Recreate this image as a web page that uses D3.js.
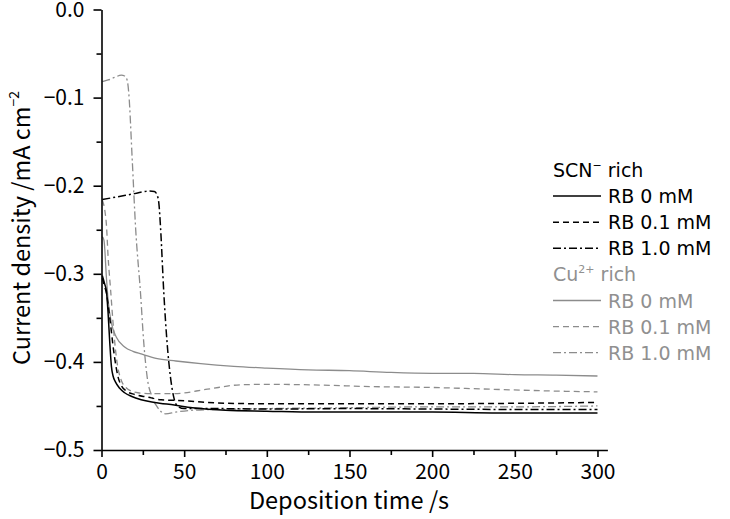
<!DOCTYPE html>
<html><head><meta charset="utf-8">
<script src="https://cdn.jsdelivr.net/npm/d3@7"></script>
<style>body{margin:0;background:#fff}</style>
</head><body>
<svg id="c" width="730" height="519"></svg>
<script>
// ---- data ----
const xTicks = [0, 50, 100, 150, 200, 250, 300];
const xMinorTicks = [25, 75, 125, 175, 225, 275];
const yTicks = [0, -0.1, -0.2, -0.3, -0.4, -0.5];
const yMinorTicks = [-0.05, -0.15, -0.25, -0.35, -0.45];
const yTickLabels = ["0.0", "−0.1", "−0.2", "−0.3", "−0.4", "−0.5"];

// SCN- rich
const tScn0 = [0.5, 2, 3, 4, 5, 6, 7, 8.5, 11, 14, 18, 24, 32, 44, 55, 75, 100, 130, 160, 200, 240, 270, 300];
const vScn0 = [-0.302, -0.312, -0.320, -0.345, -0.378, -0.405, -0.416, -0.423, -0.430, -0.435, -0.439, -0.443, -0.446, -0.449, -0.452, -0.455, -0.456, -0.457, -0.457, -0.457, -0.458, -0.458, -0.458];
const tScn01 = [0.5, 2, 3, 4, 5, 6, 7, 8, 10, 12, 15, 20, 28, 36, 50, 64, 96, 150, 200, 250, 300];
const vScn01 = [-0.305, -0.315, -0.322, -0.335, -0.350, -0.366, -0.382, -0.396, -0.417, -0.427, -0.433, -0.437, -0.440, -0.443, -0.444, -0.446, -0.4475, -0.4475, -0.4475, -0.447, -0.446];
const tScn10 = [0.5, 10, 20, 29, 32, 33.5, 34.7, 35.7, 37.7, 39.7, 41.7, 43.7, 45.8, 50, 70, 100, 150, 200, 250, 300];
const vScn10 = [-0.2157, -0.2125, -0.209, -0.206, -0.2065, -0.210, -0.220, -0.247, -0.322, -0.379, -0.417, -0.440, -0.450, -0.453, -0.453, -0.4535, -0.453, -0.4535, -0.454, -0.454];

// Cu2+ rich
const tCu0 = [0.5, 1.5, 3, 4, 6, 9, 14, 19, 24, 33, 45, 60, 80, 100, 125, 150, 175, 200, 225, 250, 275, 300];
const vCu0 = [-0.258, -0.262, -0.305, -0.330, -0.356, -0.372, -0.383, -0.388, -0.391, -0.396, -0.399, -0.402, -0.405, -0.407, -0.409, -0.410, -0.412, -0.413, -0.413, -0.4145, -0.415, -0.416];
const tCu01 = [0.5, 2, 3, 4, 5.5, 7, 9, 12, 16, 22, 30, 44, 64, 84, 100, 126, 163, 199, 235, 272, 300];
const vCu01 = [-0.2165, -0.228, -0.245, -0.281, -0.318, -0.356, -0.395, -0.421, -0.431, -0.435, -0.436, -0.436, -0.431, -0.426, -0.4255, -0.426, -0.428, -0.429, -0.431, -0.433, -0.434];
const tCu10 = [0.5, 4, 8, 12, 14, 15.5, 16.5, 18.6, 20.6, 23.6, 25.6, 27.6, 30.7, 33.7, 38.7, 44.8, 54, 70, 100, 150, 200, 250, 300];
const vCu10 = [-0.082, -0.080, -0.077, -0.0745, -0.0755, -0.080, -0.095, -0.171, -0.247, -0.322, -0.379, -0.417, -0.440, -0.451, -0.459, -0.457, -0.455, -0.454, -0.453, -0.452, -0.451, -0.451, -0.450];

const seriesLabels = ["RB 0 mM", "RB 0.1 mM", "RB 1.0 mM"];

// ---- drawing ----
const BLACK = "#000", GRAY = "#8c8c8c";
const dashes = [null, "6,4", "8,3,2,3"];
const series = [
  {t: tScn0, v: vScn0, color: BLACK, w: 1.5, dash: dashes[0]},
  {t: tScn01, v: vScn01, color: BLACK, w: 1.5, dash: dashes[1]},
  {t: tScn10, v: vScn10, color: BLACK, w: 1.5, dash: dashes[2]},
  {t: tCu0, v: vCu0, color: GRAY, w: 1.3, dash: dashes[0]},
  {t: tCu01, v: vCu01, color: GRAY, w: 1.3, dash: dashes[1]},
  {t: tCu10, v: vCu10, color: GRAY, w: 1.3, dash: dashes[2]},
];

const svg = d3.select("#c");
const x = d3.scaleLinear().domain([0, 306]).range([101.5, 607.4]);
const y = d3.scaleLinear().domain([-0.5, 0]).range([450, 9.5]);

const FONT = "'Noto Sans CJK JP', 'Noto Sans', sans-serif";

const line = d3.line().x(d => x(d[0])).y(d => y(d[1])).curve(d3.curveMonotoneX);
[3,4,5,0,1,2].forEach(i => {
  const s = series[i];
  svg.append("path")
    .attr("d", line(s.t.map((tt, k) => [tt, s.v[k]])))
    .attr("fill", "none").attr("stroke", s.color).attr("stroke-width", s.w)
    .attr("stroke-dasharray", s.dash);
});

// axes
svg.append("g").attr("transform", `translate(0,${y(-0.5)})`)
  .call(d3.axisBottom(x).tickValues(xTicks).tickSize(7).tickSizeOuter(0).tickPadding(7).tickFormat(d3.format("d")));
svg.append("g").attr("transform", `translate(0,${y(-0.5)})`)
  .call(d3.axisBottom(x).tickValues(xMinorTicks).tickSize(5).tickSizeOuter(0).tickFormat(""))
  .select(".domain").remove();
svg.append("g").attr("transform", `translate(${x(0)},0)`)
  .call(d3.axisLeft(y).tickValues(yTicks).tickSize(8).tickSizeOuter(0).tickPadding(9)
    .tickFormat((d, i) => yTickLabels[i]));
svg.append("g").attr("transform", `translate(${x(0)},0)`)
  .call(d3.axisLeft(y).tickValues(yMinorTicks).tickSize(5).tickSizeOuter(0).tickFormat(""))
  .select(".domain").remove();

svg.selectAll(".domain, .tick line").attr("stroke", "#000").attr("stroke-width", 1.6);
svg.selectAll(".tick text").attr("font-family", FONT).attr("font-size", 21).attr("fill", "#000");

// axis titles
svg.append("text").attr("x", 349).attr("y", 509).attr("text-anchor", "middle")
  .attr("font-family", FONT).attr("font-size", 23.5).text("Deposition time /s");
const yt = svg.append("text").attr("transform", "translate(30,228) rotate(-90)")
  .attr("text-anchor", "middle").attr("font-family", FONT).attr("font-size", 23.5);
yt.append("tspan").text("Current density /mA cm");
yt.append("tspan").attr("dy", -11).attr("font-size", 14).text("−2");

// legend
const LFONT = "'DejaVu Sans', 'Liberation Sans', sans-serif";
const LSIZE = 19;
const lg = svg.append("g");
const rowH = 26.1, top0 = 170;
const groups = [
  {title: ["SCN", "−"], color: BLACK, idx: [0,1,2]},
  {title: ["Cu", "2+"], color: "#909090", idx: [3,4,5]},
];
let row = 0;
groups.forEach(g => {
  const ty = top0 + row * rowH;
  const tt = lg.append("text").attr("x", 553).attr("y", ty + 7)
    .attr("font-family", LFONT).attr("font-size", LSIZE).attr("fill", g.color);
  tt.append("tspan").text(g.title[0]);
  tt.append("tspan").attr("dy", -8).attr("font-size", 11).text(g.title[1]);
  tt.append("tspan").attr("dy", 8).text(" rich");
  row++;
  g.idx.forEach((si, k) => {
    const s = series[si];
    const ry = top0 + row * rowH;
    lg.append("line").attr("x1", 553).attr("x2", 601).attr("y1", ry).attr("y2", ry)
      .attr("stroke", s.color).attr("stroke-width", s.w).attr("stroke-dasharray", s.dash);
    lg.append("text").attr("x", 608).attr("y", ry + 7)
      .attr("font-family", LFONT).attr("font-size", LSIZE).attr("fill", g.color)
      .text(seriesLabels[k]);
    row++;
  });
});
</script>
</body></html>
